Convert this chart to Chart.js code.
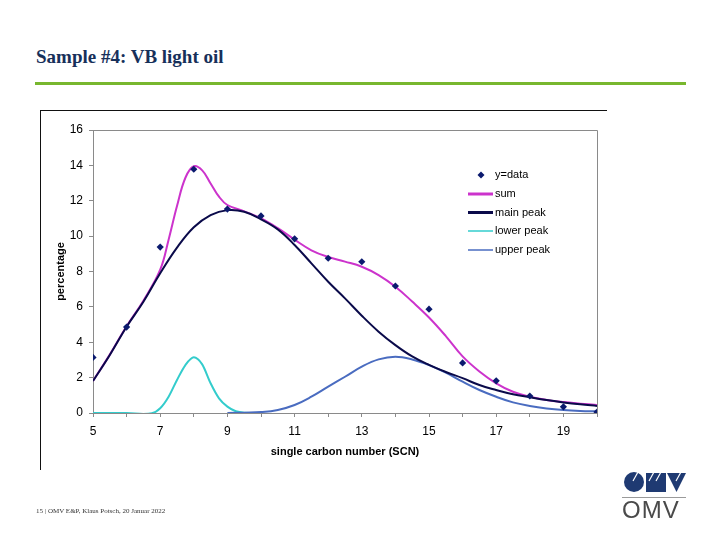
<!DOCTYPE html>
<html>
<head>
<meta charset="utf-8">
<script src="https://cdn.jsdelivr.net/npm/chart.js@4"></script>
<style>
  html, body { margin: 0; padding: 0; background: #fff; }
  #page { position: relative; width: 720px; height: 540px; overflow: hidden; background: #fff; }
  #title { position: absolute; left: 36px; top: 46px; font-family: "Liberation Serif", "DejaVu Serif", serif; font-size: 19px; font-weight: bold; color: #17305a; white-space: nowrap; }
  #rule { position: absolute; left: 35px; top: 82px; width: 651px; height: 3px; background: #78b72e; }
  #frameTop { position: absolute; left: 40px; top: 110px; width: 567px; height: 1px; background: #111; }
  #frameLeft { position: absolute; left: 40px; top: 110px; width: 1px; height: 360px; background: #111; }
  #chart { position: absolute; left: 0; top: 0; }
  #footer { position: absolute; left: 36px; top: 507px; font-family: "Liberation Serif", serif; font-size: 7px; color: #333; white-space: nowrap; }
  #logoText { position: absolute; left: 622px; top: 496px; font-family: "Liberation Sans", Arial, sans-serif; font-size: 24px; color: #4a4a4a; letter-spacing: 1px; }
  #logo { position: absolute; left: 622px; top: 472px; }
</style>
</head>
<body>
<div id="page">
  <div id="title">Sample #4: VB light oil</div>
  <div id="rule"></div>
  <div id="frameTop"></div>
  <div id="frameLeft"></div>
  <canvas id="chart" width="720" height="540"></canvas>
  <div id="footer">15 | OMV E&amp;P, Klaus Potsch, 20 Januar 2022</div>
  <svg id="logo" width="66" height="30" viewBox="0 0 66 30">
    <circle cx="12" cy="10" r="10" fill="#1f3a72"/>
    <polygon points="24,1 44,1 44,20 24,20" fill="#1f3a72"/>
    <polygon points="45,1 64,1 54.5,20" fill="#1f3a72"/>
    <line x1="16" y1="0" x2="11" y2="9" stroke="#fff" stroke-width="1.2"/>
    <line x1="32" y1="0" x2="27" y2="9" stroke="#fff" stroke-width="1.2"/>
    <line x1="39" y1="0" x2="34" y2="9" stroke="#fff" stroke-width="1.2"/>
    <line x1="59" y1="0" x2="54" y2="9" stroke="#fff" stroke-width="1.2"/>
    <rect x="0" y="25" width="64" height="1" fill="#9a9a9a"/>
  </svg>
  <div id="logoText">OMV</div>
</div>
<script>
// ---- data ----
const scn = [5, 6, 7, 8, 9, 10, 11, 12, 13, 14, 15, 16, 17, 18, 19, 20];
const dataPct = [3.14, 4.86, 9.38, 13.78, 11.53, 11.14, 9.85, 8.75, 8.55, 7.18, 5.87, 2.83, 1.82, 0.96, 0.35, 0.05];

const sumX = [5, 5.5, 6, 6.5, 7, 7.25, 7.5, 7.75, 8, 8.25, 8.5, 8.75, 9, 9.5, 10, 10.5, 11, 11.5, 12, 12.5, 13, 13.5, 14, 14.5, 15, 15.5, 16, 16.5, 17, 17.5, 18, 18.5, 19, 19.5, 20];
const sumPct = [1.81, 3.3, 4.9, 6.35, 8.1, 9.8, 11.7, 13.3, 13.95, 13.72, 12.98, 12.23, 11.76, 11.4, 11.0, 10.45, 9.8, 9.2, 8.82, 8.56, 8.27, 7.8, 7.14, 6.3, 5.4, 4.35, 3.2, 2.35, 1.68, 1.2, 0.92, 0.74, 0.62, 0.53, 0.45];

const mainX = [5, 5.5, 6, 6.5, 7, 7.5, 8, 8.5, 9, 9.5, 10, 10.5, 11, 11.5, 12, 12.5, 13, 13.5, 14, 14.5, 15, 15.5, 16, 16.5, 17, 17.5, 18, 18.5, 19, 19.5, 20];
const mainPct = [1.81, 3.28, 4.88, 6.29, 7.9, 9.35, 10.5, 11.19, 11.47, 11.38, 10.95, 10.38, 9.5, 8.46, 7.42, 6.48, 5.5, 4.6, 3.84, 3.2, 2.72, 2.32, 1.97, 1.58, 1.3, 1.06, 0.89, 0.73, 0.6, 0.49, 0.4];

const lowerX = [5, 5.5, 6, 6.5, 6.75, 7, 7.25, 7.5, 7.75, 8, 8.25, 8.5, 8.75, 9, 9.25, 9.5, 10];
const lowerPct = [0, 0, 0, -0.05, -0.02, 0.27, 0.92, 1.87, 2.71, 3.15, 2.75, 1.68, 0.83, 0.36, 0.1, 0.02, 0];

const upperX = [9, 9.5, 10, 10.5, 11, 11.5, 12, 12.5, 13, 13.5, 14, 14.5, 15, 15.5, 16, 16.5, 17, 17.5, 18, 18.5, 19, 19.5, 20];
const upperPct = [0, 0.02, 0.05, 0.17, 0.45, 0.92, 1.49, 2.05, 2.62, 3.03, 3.18, 3.03, 2.71, 2.28, 1.77, 1.3, 0.92, 0.6, 0.4, 0.26, 0.17, 0.12, 0.1];

const xTickLabels = ['5', '7', '9', '11', '13', '15', '17', '19'];
const seriesNames = ['y=data', 'sum', 'main peak', 'lower peak', 'upper peak'];

const colData = '#0b1a6e';
const colSum = '#cc33cc';
const colMain = '#0a0a4a';
const colLower = '#33cccc';
const colUpper = '#4a6cc0';

function pts(xs, ys) { return xs.map((x, i) => ({ x: x, y: ys[i] })); }

const legendPlugin = {
  id: 'customLegend',
  afterDraw(chart) {
    const ctx = chart.ctx;
    const x0 = 468, x1 = 493, tx = 495;
    const ys = [175, 194, 212.5, 231, 250];
    ctx.save();
    ctx.font = '11px "Liberation Sans", Arial, sans-serif';
    ctx.textBaseline = 'middle';
    ctx.fillStyle = colData;
    ctx.beginPath();
    ctx.moveTo(481, ys[0] - 3.5); ctx.lineTo(484.5, ys[0]); ctx.lineTo(481, ys[0] + 3.5); ctx.lineTo(477.5, ys[0]); ctx.closePath();
    ctx.fill();
    const lines = [[colSum, 3], [colMain, 3], [colLower, 1.5], [colUpper, 1.5]];
    lines.forEach((l, i) => {
      ctx.strokeStyle = l[0]; ctx.lineWidth = l[1];
      ctx.beginPath(); ctx.moveTo(x0, ys[i + 1]); ctx.lineTo(x1, ys[i + 1]); ctx.stroke();
    });
    ctx.fillStyle = '#000';
    seriesNames.forEach((n, i) => ctx.fillText(n, tx, ys[i]));
    ctx.restore();
  }
};

const borderPlugin = {
  id: 'plotBorder',
  beforeDatasetsDraw(chart) {
    const a = chart.chartArea, ctx = chart.ctx;
    ctx.save();
    ctx.strokeStyle = '#8a8a8a'; ctx.lineWidth = 1;
    ctx.beginPath();
    ctx.moveTo(a.left, a.top + 0.5); ctx.lineTo(a.right + 0.5, a.top + 0.5); ctx.lineTo(a.right + 0.5, a.bottom);
    ctx.stroke();
    ctx.restore();
  }
};

const lineDs = (label, xs, ys, color, order, mono) => ({
  label: label, data: pts(xs, ys), showLine: true, borderColor: color, backgroundColor: color,
  borderWidth: 2, pointRadius: 0, tension: 0.4,
  cubicInterpolationMode: mono ? 'monotone' : 'default', order: order
});

new Chart(document.getElementById('chart'), {
  type: 'scatter',
  data: {
    datasets: [
      { label: seriesNames[0], data: pts(scn, dataPct), pointStyle: 'rectRot', pointRadius: 3.6,
        backgroundColor: colData, borderColor: colData, borderWidth: 0, showLine: false, order: 0 },
      lineDs(seriesNames[1], sumX, sumPct, colSum, 2, false),
      lineDs(seriesNames[2], mainX, mainPct, colMain, 1, false),
      lineDs(seriesNames[3], lowerX, lowerPct, colLower, 4, true),
      lineDs(seriesNames[4], upperX, upperPct, colUpper, 3, false)
    ]
  },
  options: {
    responsive: false,
    animation: false,
    layout: { padding: { left: 45, top: 130, right: 123, bottom: 77 } },
    plugins: { legend: { display: false }, tooltip: { enabled: false } },
    scales: {
      x: {
        type: 'linear', min: 5, max: 20,
        afterFit(s) { s.height = 50; },
        ticks: {
          stepSize: 1, padding: 7, maxRotation: 0, autoSkip: false, color: '#000',
          font: { family: '"Liberation Sans", Arial, sans-serif', size: 12 },
          callback: (v) => xTickLabels.includes(String(v)) ? String(v) : ''
        },
        grid: { drawOnChartArea: false, tickLength: 4, color: '#8a8a8a' },
        border: { color: '#8a8a8a', width: 1 },
        title: { display: true, text: 'single carbon number (SCN)', color: '#000',
          font: { family: '"Liberation Sans", Arial, sans-serif', size: 11, weight: 'bold' },
          padding: { top: 0, bottom: 4 } }
      },
      y: {
        type: 'linear', min: 0, max: 16,
        afterFit(s) { s.width = 48; },
        ticks: { stepSize: 2, padding: 6, color: '#000',
          font: { family: '"Liberation Sans", Arial, sans-serif', size: 12 } },
        grid: { drawOnChartArea: false, tickLength: 4, color: '#8a8a8a' },
        border: { color: '#8a8a8a', width: 1 },
        title: { display: true, text: 'percentage', color: '#000',
          font: { family: '"Liberation Sans", Arial, sans-serif', size: 11, weight: 'bold' },
          padding: { top: 9, bottom: 0 } }
      }
    }
  },
  plugins: [legendPlugin, borderPlugin]
});
</script>
</body>
</html>
